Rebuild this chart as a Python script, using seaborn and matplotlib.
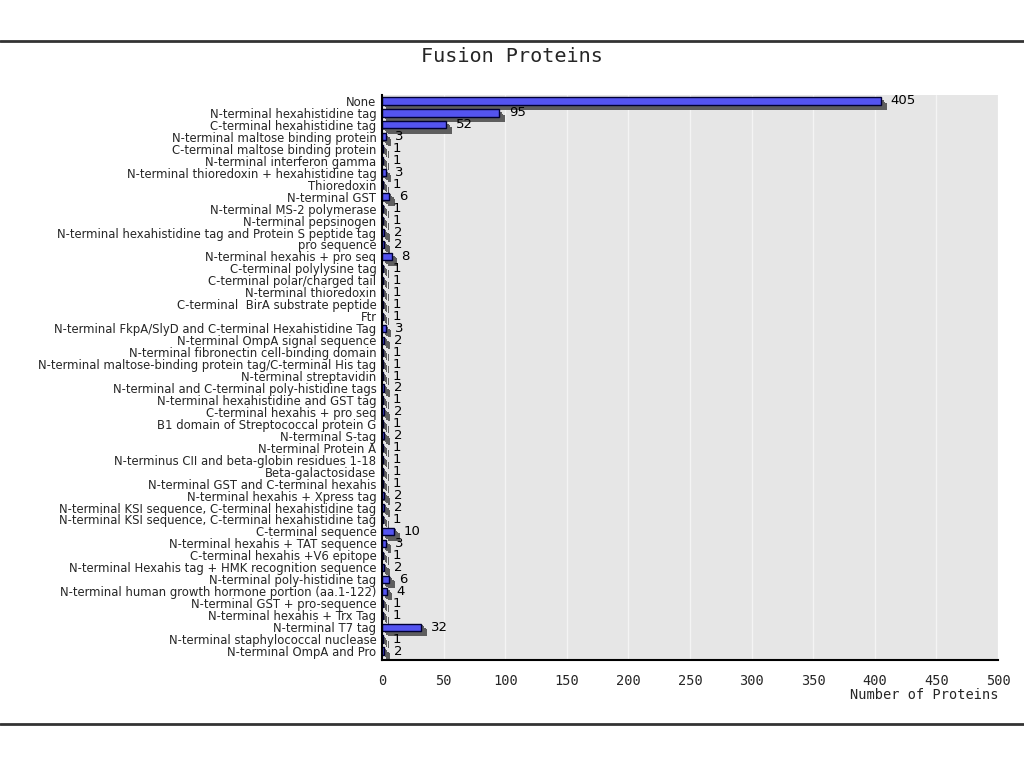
import matplotlib
matplotlib.use('Agg')
import matplotlib.pyplot as plt
import matplotlib.patheffects as pe
from matplotlib.lines import Line2D
from matplotlib.ticker import MultipleLocator
import pandas as pd
import seaborn as sns

labels = [
    'None',
    'N-terminal hexahistidine tag',
    'C-terminal hexahistidine tag',
    'N-terminal maltose binding protein',
    'C-terminal maltose binding protein',
    'N-terminal interferon gamma',
    'N-terminal thioredoxin + hexahistidine tag',
    'Thioredoxin',
    'N-terminal GST',
    'N-terminal MS-2 polymerase',
    'N-terminal pepsinogen',
    'N-terminal hexahistidine tag and Protein S peptide tag',
    'pro sequence',
    'N-terminal hexahis + pro seq',
    'C-terminal polylysine tag',
    'C-terminal polar/charged tail',
    'N-terminal thioredoxin',
    'C-terminal  BirA substrate peptide',
    'Ftr',
    'N-terminal FkpA/SlyD and C-terminal Hexahistidine Tag',
    'N-terminal OmpA signal sequence',
    'N-terminal fibronectin cell-binding domain',
    'N-terminal maltose-binding protein tag/C-terminal His tag',
    'N-terminal streptavidin',
    'N-terminal and C-terminal poly-histidine tags',
    'N-terminal hexahistidine and GST tag',
    'C-terminal hexahis + pro seq',
    'B1 domain of Streptococcal protein G',
    'N-terminal S-tag',
    'N-terminal Protein A',
    'N-terminus CII and beta-globin residues 1-18',
    'Beta-galactosidase',
    'N-terminal GST and C-terminal hexahis',
    'N-terminal hexahis + Xpress tag',
    'N-terminal KSI sequence, C-terminal hexahistidine tag',
    'N-terminal KSI sequence, C-terminal hexahistidine tag',
    'C-terminal sequence',
    'N-terminal hexahis + TAT sequence',
    'C-terminal hexahis +V6 epitope',
    'N-terminal Hexahis tag + HMK recognition sequence',
    'N-terminal poly-histidine tag',
    'N-terminal human growth hormone portion (aa.1-122)',
    'N-terminal GST + pro-sequence',
    'N-terminal hexahis + Trx Tag',
    'N-terminal T7 tag',
    'N-terminal staphylococcal nuclease',
    'N-terminal OmpA and Pro',
]
counts = [405, 95, 52, 3, 1, 1, 3, 1, 6, 1, 1, 2, 2, 8, 1, 1, 1, 1, 1, 3, 2, 1, 1, 1,
          2, 1, 2, 1, 2, 1, 1, 1, 1, 2, 2, 1, 10, 3, 1, 2, 6, 4, 1, 1, 32, 1, 2]
x_ticks = [0, 50, 100, 150, 200, 250, 300, 350, 400, 450, 500]

# some labels repeat, so bars are keyed by row id and labelled afterwards
df = pd.DataFrame({'row': [f'r{i}' for i in range(len(labels))], 'count': counts})

sns.set_style('white')
mono = 'DejaVu Sans Mono'
sans = 'DejaVu Sans'

fig = plt.figure(figsize=(10.24, 7.67), dpi=100)
ax = fig.add_axes([382 / 1024, 1 - 660 / 767, 616 / 1024, 565 / 767])
ax.set_facecolor('#e6e6e6')

sns.barplot(data=df, x='count', y='row', orient='h', color='#5454f0',
            edgecolor='#000033', linewidth=1, width=0.6, saturation=1, ax=ax)

# fake 3d depth: stack of grey shadows stepping down-right
depth = [pe.SimplePatchShadow(offset=(k, -k), shadow_rgbFace='#5e5e5e', alpha=1) for k in range(4, 0, -1)]
for bar in ax.patches:
    bar.set_path_effects(depth + [pe.Normal()])

ax.bar_label(ax.containers[0], labels=[str(c) for c in counts], padding=7,
             fontsize=9.5, family=sans, color='black')

ax.set_xlim(0, 500)
ax.set_ylim(len(labels) - 0.25, -0.5)
ax.set_yticks(range(len(labels)))
ax.set_yticklabels(labels, family=sans, fontsize=8.4)
ax.set_xticks(x_ticks)
ax.set_xticklabels([str(t) for t in x_ticks], family=mono, fontsize=9.8)
ax.xaxis.set_minor_locator(MultipleLocator(10))
ax.tick_params(axis='x', which='major', direction='in', length=7, width=1, color='black', pad=10)
ax.tick_params(axis='x', which='minor', direction='in', length=4, width=1, color='black')
ax.tick_params(axis='y', length=0, pad=4)

ax.grid(axis='x', color='#f4f4f4', linewidth=1)
ax.set_axisbelow(True)
for side in ['top', 'right']:
    ax.spines[side].set_visible(False)
ax.spines['left'].set_color('black')
ax.spines['bottom'].set_color('black')
ax.spines['left'].set_linewidth(1.5)
ax.spines['bottom'].set_linewidth(1.5)

ax.set_xlabel('')
ax.set_ylabel('')
fig.text(998 / 1024, 1 - 695 / 767, 'Number of Proteins', ha='right', va='center',
         family=mono, fontsize=9.8)
fig.text(512 / 1024, 1 - 57 / 767, 'Fusion Proteins', ha='center', va='center',
         family=mono, fontsize=14.5)

for y in [41, 724]:
    fig.add_artist(Line2D([0, 1], [1 - y / 767, 1 - y / 767], color='#333333', linewidth=2))

fig.savefig('out.png', dpi=100)
plt.close(fig)
